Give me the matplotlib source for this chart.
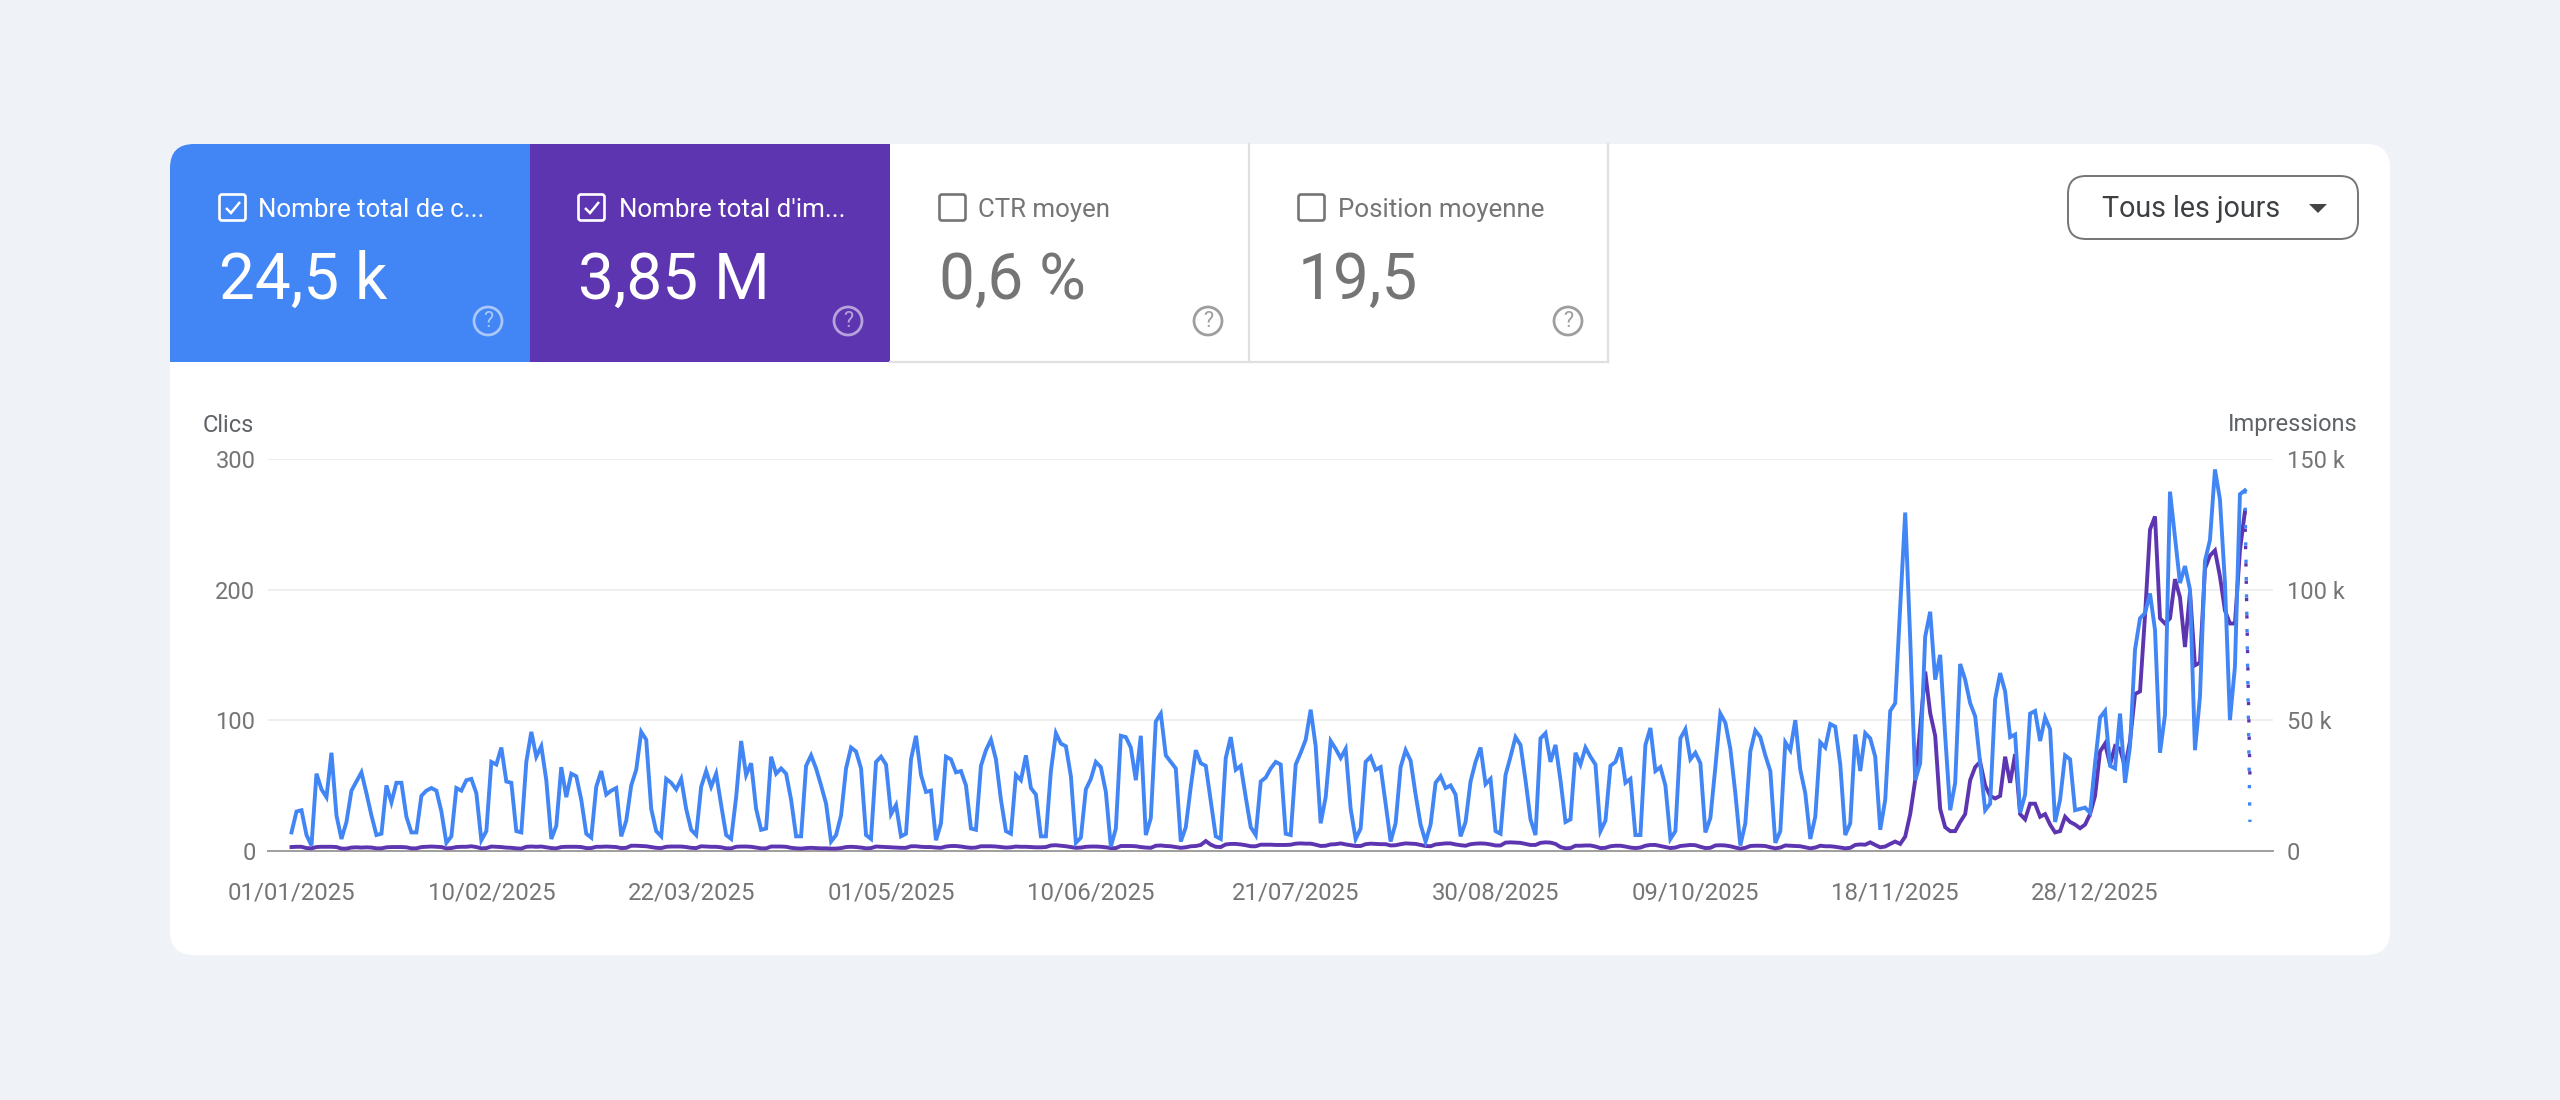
import matplotlib
matplotlib.use("Agg")
import matplotlib.pyplot as plt
from matplotlib.patches import FancyBboxPatch, Rectangle, Circle, Polygon, PathPatch
from matplotlib.path import Path
import pandas as pd

plt.rcParams['font.family'] = ['Roboto', 'DejaVu Sans']

clicks = [
 14,30,31,12,4,59,47,41,75,27,
 9,22,46,53,60,44,27,12,13,50,
 37,52,52,26,14,14,42,46,48,46,
 30,6,11,48,46,54,55,44,8,15,
 68,66,79,53,52,15,14,68,91,72,
 80,54,9,19,64,41,59,57,39,13,
 10,49,61,43,46,48,11,23,50,62,
 91,85,32,15,11,55,52,47,55,32,
 16,12,49,61,49,59,35,12,9,41,
 84,58,67,32,16,17,72,59,63,59,
 39,11,11,65,73,63,50,36,7,12,
 27,63,79,76,63,12,9,68,72,66,
 28,35,11,13,70,88,58,45,46,8,
 21,72,70,60,61,50,17,16,65,77,
 85,70,39,15,13,58,54,73,48,43,
 11,11,61,90,82,80,57,6,10,47,
 55,68,64,45,3,17,88,87,79,54,
 88,12,25,99,105,73,68,63,7,18,
 49,77,67,65,38,11,9,71,87,62,
 65,41,18,12,53,56,63,68,66,13,
 12,66,75,85,108,80,21,41,84,78,
 71,78,32,9,17,68,72,62,64,36,
 7,21,64,77,69,43,20,7,20,52,
 57,48,50,43,11,22,53,68,79,51,
 55,15,13,58,72,87,81,54,24,12,
 86,90,68,81,54,22,24,75,66,79,
 72,66,15,23,65,68,79,52,55,12,
 12,81,94,61,64,50,9,15,86,93,
 70,75,67,14,25,64,105,98,78,44,
 4,21,76,92,87,73,61,6,15,83,
 77,100,62,44,9,26,83,79,97,95,
 66,12,21,89,61,90,86,72,16,39,
 107,113,187,259,162,54,67,164,183,131,
 150,88,31,52,143,131,113,103,67,31,
 36,116,136,122,87,89,29,43,105,107,
 84,102,93,22,39,73,70,31,32,33,
 29,67,102,107,65,63,105,52,80,154,
 178,182,197,169,75,104,275,240,205,218,
 200,77,118,222,238,292,269,205,100,141,
 273,276,22,
]

impressions_k = [
 1.4,1.5,1.5,1.0,0.9,1.4,1.5,
 1.5,1.5,1.4,0.8,0.8,1.2,1.3,
 1.2,1.3,1.2,0.9,0.9,1.3,1.4,
 1.4,1.4,1.3,0.9,0.9,1.4,1.5,
 1.6,1.5,1.4,0.9,1.0,1.4,1.5,
 1.5,1.7,1.4,0.9,1.0,1.6,1.5,
 1.4,1.2,1.1,0.9,0.8,1.5,1.6,
 1.5,1.6,1.3,1.0,0.9,1.4,1.5,
 1.5,1.5,1.4,1.0,1.0,1.5,1.5,
 1.6,1.5,1.4,1.0,1.1,1.9,1.9,
 1.8,1.7,1.4,1.1,1.0,1.5,1.6,
 1.6,1.6,1.4,1.1,1.0,1.7,1.6,
 1.5,1.5,1.3,0.9,0.9,1.5,1.6,
 1.6,1.5,1.2,0.9,0.9,1.6,1.6,
 1.6,1.5,1.1,0.9,0.8,1.0,1.1,
 1.0,0.9,0.9,0.8,0.8,1.0,1.4,
 1.5,1.4,1.2,0.9,1.0,1.6,1.5,
 1.4,1.3,1.2,1.1,1.1,1.7,1.7,
 1.5,1.4,1.4,1.2,1.1,1.6,1.8,
 1.8,1.6,1.3,1.1,1.2,1.7,1.7,
 1.7,1.6,1.4,1.2,1.3,1.6,1.5,
 1.5,1.4,1.3,1.3,1.4,2.0,2.1,
 1.9,1.7,1.4,1.1,1.2,1.5,1.6,
 1.6,1.5,1.3,1.0,1.0,1.8,1.8,
 1.8,1.7,1.4,1.2,1.1,1.9,2.0,
 1.8,1.7,1.4,1.1,1.3,1.7,1.8,
 2.2,3.7,2.3,1.5,1.4,2.4,2.6,
 2.6,2.4,2.1,1.7,1.7,2.3,2.3,
 2.3,2.2,2.2,2.2,2.3,2.7,2.8,
 2.7,2.7,2.3,1.8,1.9,2.4,2.5,
 2.8,2.4,2.1,1.8,1.8,2.5,2.7,
 2.6,2.5,2.5,2.0,2.1,2.5,2.8,
 2.7,2.6,2.2,1.8,1.7,2.4,2.6,
 2.8,2.8,2.4,2.1,1.9,2.5,2.7,
 2.8,2.7,2.4,2.0,2.0,3.1,3.2,
 3.1,3.0,2.6,2.2,2.2,3.0,3.2,
 3.1,2.6,1.4,0.9,1.0,1.9,1.9,
 2.0,2.0,1.6,1.0,1.1,1.7,1.9,
 1.9,1.6,1.2,1.0,1.2,1.9,2.2,
 2.2,1.8,1.4,1.0,1.2,1.8,2.0,
 2.2,2.1,1.5,1.0,1.1,2.0,2.1,
 2.0,1.7,1.2,0.8,1.1,1.8,1.9,
 1.9,1.8,1.3,0.9,1.2,2.0,1.9,
 1.8,1.7,1.3,0.9,1.2,1.9,1.7,
 1.7,1.5,1.2,0.9,1.1,2.2,2.4,
 2.3,3.2,2.2,1.3,1.6,2.6,3.5,2.6,5.4,14,
 27,47,68.6,52.7,44,16,9,7.5,7.5,11,
 14,27,32,34,25,21,20,21,36,26,
 37,14,12,18,18,13,14,10,7,7.5,
 13,11,10,8.6,10,14,21,38,41,33,
 40,39,32,42,60,61,90,123,128,89,
 87,89,104,97,78,99,71,72,108,113,
 115,105,92,87,87,115,130,28,
]

date_labels = ["01/01/2025","10/02/2025","22/03/2025","01/05/2025","10/06/2025",
               "21/07/2025","30/08/2025","09/10/2025","18/11/2025","28/12/2025"]
clicks_ticks = [0, 100, 200, 300]
impr_ticks = [0, 50, 100, 150]
impr_tick_labels = ["0", "50 k", "100 k", "150 k"]

tile_labels = ["Nombre total de c...", "Nombre total d'im...", "CTR moyen", "Position moyenne"]
tile_values = ["24,5 k", "3,85 M", "0,6 %", "19,5"]

BLUE = "#4285f4"
PURPLE = "#5e35b1"
BG = "#eff3f8"
GREY = "#757575"
W, H = 2560, 1100

fig = plt.figure(figsize=(W/100, H/100), dpi=100, facecolor=BG)
ui = fig.add_axes([0, 0, 1, 1])
ui.set_xlim(0, W); ui.set_ylim(H, 0); ui.axis("off")

# card with rounded corners
card = FancyBboxPatch((170+24, 144+24), 2220-48, 811-48, boxstyle="round,pad=24",
                      fc="white", ec="none", zorder=1)
ui.add_patch(card)

# tiles
tile_x = [170, 530, 890, 1249, 1608]
tile_top, tile_bot = 144, 362
for i, col in enumerate([BLUE, PURPLE]):
    r = Rectangle((tile_x[i], tile_top), tile_x[i+1]-tile_x[i], tile_bot-tile_top,
                  fc=col, ec="none", zorder=2)
    ui.add_patch(r)
    if i == 0:
        r.set_clip_path(card)
for i in (2, 3):
    ui.plot([tile_x[i+1]]*2, [tile_top, tile_bot], color="#e0e0e0", lw=1.6, zorder=2)
    ui.plot([tile_x[i], tile_x[i+1]], [tile_bot, tile_bot], color="#e0e0e0", lw=1.6, zorder=2)

check_x = [219, 578, 939, 1298]
label_x = [258, 619, 978, 1338]
help_x = [488, 848, 1208, 1568]
for i in range(4):
    on = i < 2
    fg = "white" if on else GREY
    ui.add_patch(FancyBboxPatch((check_x[i]+3, 197), 21, 21, boxstyle="round,pad=2.5",
                                fc="none", ec=fg, lw=1.9, zorder=3))
    if on:
        ui.add_patch(PathPatch(Path([(check_x[i]+7, 208), (check_x[i]+12, 213), (check_x[i]+21, 202)]),
                               fc="none", ec="white", lw=1.8, zorder=3))
    ui.text(label_x[i], 217, tile_labels[i], color=fg, fontsize=18.6, va="baseline", ha="left", zorder=3)
    ui.text(check_x[i], 299, tile_values[i], color=fg, fontsize=46, va="baseline", ha="left", zorder=3)
    hc = (1, 1, 1, 0.55) if on else "#9e9e9e"
    ui.add_patch(Circle((help_x[i], 321), 14, fc="none", ec=hc, lw=2, zorder=3))
    ui.text(help_x[i], 321.5, "?", color=hc, fontsize=15.5,
            ha="center", va="center", zorder=3)

# period button
ui.add_patch(FancyBboxPatch((2068+18, 176+18), 290-36, 63-36, boxstyle="round,pad=18",
                            fc="white", ec="#757575", lw=1.4, zorder=3))
ui.text(2102, 217, "Tous les jours", color="#3c4043", fontsize=20.6, ha="left", va="baseline", zorder=4)
ui.add_patch(Polygon([(2309, 204), (2327, 204), (2318, 213)], fc="#444444", ec="none", zorder=4))

# axis titles
ui.text(203, 425, "Clics", color="#5f6368", fontsize=17, ha="left", va="center", zorder=3)
ui.text(2357, 425, "Impressions", color="#5f6368", fontsize=17, ha="right", va="center", zorder=3)

# chart
dates = pd.date_range("2025-01-01", periods=len(clicks), freq="D")
x_left, x_right, y_top, y_bot = 268, 2273, 459, 850.7
ax = fig.add_axes([x_left/W, 1-y_bot/H, (x_right-x_left)/W, (y_bot-y_top)/H], zorder=5)
ax.patch.set_alpha(0)
t0 = dates[0]
px_per_day = 4.996
ax.set_xlim(t0 - pd.Timedelta(days=(291.5-x_left)/px_per_day),
            t0 + pd.Timedelta(days=(x_right-291.5)/px_per_day))
ax.set_ylim(0, 300)
for s in ax.spines.values():
    s.set_visible(False)
ax.set_yticks(clicks_ticks)
ax.tick_params(length=0, labelsize=17, labelcolor=GREY, pad=0)
ax.tick_params(axis="y", pad=9)
ax.tick_params(axis="x", pad=22, labelsize=17.2)
ax.set_xticks(pd.to_datetime(date_labels, format="%d/%m/%Y"))
ax.set_xticklabels(date_labels)

ax2 = ax.twinx()
ax2.set_ylim(0, 150)
for s in ax2.spines.values():
    s.set_visible(False)
ax2.set_yticks(impr_ticks)
ax2.set_yticklabels(impr_tick_labels)
ax2.tick_params(length=0, labelsize=17, labelcolor=GREY, pad=10)
ax2.patch.set_alpha(0)
ax2.grid(axis="y", color="#ebebeb", lw=1.1, zorder=0)
ax2.set_axisbelow(True)
ax2.axhline(0, color="#9e9e9e", lw=1.4, zorder=1, clip_on=False)
ax.set_zorder(6)
ax2.set_zorder(5)

dots = (0, (1, 4.2))
ax2.plot(dates[:-1], impressions_k[:-1], color=PURPLE, lw=2.8, solid_joinstyle="miter", clip_on=False)
ax2.plot(dates[-2:], impressions_k[-2:], color=PURPLE, lw=2.4, ls=dots, clip_on=False)
ax.plot(dates[:-1], clicks[:-1], color=BLUE, lw=2.8, solid_joinstyle="miter", clip_on=False)
ax.plot(dates[-2:], clicks[-2:], color=BLUE, lw=2.4, ls=dots, clip_on=False)

assert len(clicks) == len(impressions_k), (len(clicks), len(impressions_k))
fig.savefig("out.png", dpi=100, facecolor=BG)
